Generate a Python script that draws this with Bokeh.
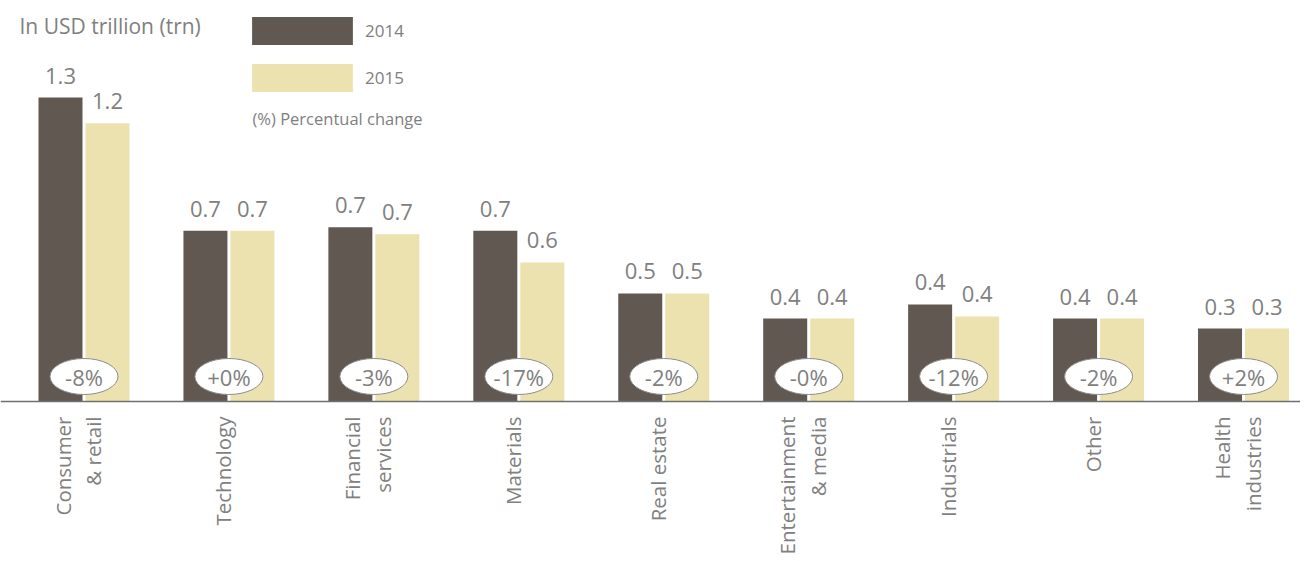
import math
from bokeh.plotting import figure
from bokeh.models import ColumnDataSource, Range1d, Span, Label, Legend, LegendItem
from bokeh.core.properties import value
from bokeh.transform import dodge
from bokeh.embed import file_html
from bokeh.resources import INLINE

# ---------------- data ----------------
categories = ["Consumer\n& retail", "Technology", "Financial\nservices", "Materials",
              "Real estate", "Entertainment\n& media", "Industrials", "Other",
              "Health\nindustries"]
values_2014 = [1.30, 0.73, 0.745, 0.73, 0.462, 0.355, 0.415, 0.355, 0.312]
values_2015 = [1.19, 0.73, 0.715, 0.595, 0.462, 0.355, 0.364, 0.355, 0.312]
pct_change = ["-8%", "+0%", "-3%", "-17%", "-2%", "-0%", "-12%", "-2%", "+2%"]
series_names = ["2014", "2015"]

# ---------------- style / layout ----------------
C14 = "#615851"
C15 = "#ECE2B0"
GREY = "#808080"
FONT = "Open Sans"

W, H = 1300, 553
px_per_group = 144.94
px_per_unit = 233.8
x0_px = 83.5      # frame x of first group centre
base_px = 401     # frame y of the zero line
bar_off = 23.5 / px_per_group
bar_w = 44 / px_per_group
pill_y = 25 / px_per_unit

src = ColumnDataSource(dict(
    x=list(range(len(categories))),
    cat=categories,
    v14=values_2014,
    v15=values_2015,
    l14=[f"{v:.1f}" for v in values_2014],
    l15=[f"{v:.1f}" for v in values_2015],
    pct=pct_change,
))

p = figure(width=W, height=H,
           x_range=Range1d(-x0_px / px_per_group, (W - x0_px) / px_per_group),
           y_range=Range1d(-(H - base_px) / px_per_unit, base_px / px_per_unit),
           output_backend="svg", toolbar_location=None,
           x_axis_location=None, y_axis_location=None,
           min_border=0, outline_line_color=None)
p.grid.visible = False

r14 = p.vbar(x=dodge("x", -bar_off), top="v14", width=bar_w, source=src,
             fill_color=C14, line_color=None)
r15 = p.vbar(x=dodge("x", bar_off), top="v15", width=bar_w, source=src,
             fill_color=C15, line_color=None)

txt = dict(text_font=value(FONT), text_color=GREY)

p.text(x=dodge("x", -bar_off), y="v14", text="l14", source=src,
       text_align="center", text_baseline="alphabetic", y_offset=-22,
       text_font_size="22px", **txt)
p.text(x=dodge("x", bar_off), y="v15", text="l15", source=src,
       text_align="center", text_baseline="alphabetic", y_offset=-22,
       text_font_size="22px", **txt)

p.ellipse(x="x", y=pill_y, width=68, height=36, width_units="screen",
          height_units="screen", source=src, fill_color="white",
          line_color="#8c8c8c", line_width=1)
p.text(x="x", y=pill_y, text="pct", source=src, text_align="center",
       text_baseline="middle", text_font_size="22px", **txt)

p.text(x="x", y=0, text="cat", source=src, angle=math.pi / 2,
       text_align="right", text_baseline="middle", y_offset=15, x_offset=-6,
       text_line_height=1.1, text_font_size="20.5px", **txt)

p.add_layout(Span(location=0, dimension="width", line_color="#6f6f6f",
                  line_width=1.5))

legend = Legend(items=[LegendItem(label=series_names[0], renderers=[r14]),
                       LegendItem(label=series_names[1], renderers=[r15])],
                location=(239, H - 95), glyph_width=126, glyph_height=35,
                spacing=12, padding=0, margin=0, border_line_color=None,
                background_fill_alpha=0, label_text_font_size="17px",
                label_text_color=GREY, label_text_font=FONT, label_standoff=0)
p.add_layout(legend)

p.add_layout(Label(x=252, y=H - 118, x_units="screen", y_units="screen",
                   text="(%) Percentual change", text_baseline="middle",
                   text_font=FONT, text_font_size="16.5px", text_color=GREY))
p.add_layout(Label(x=19, y=H - 25, x_units="screen", y_units="screen",
                   text="In USD trillion (trn)", text_baseline="middle",
                   text_font=FONT, text_font_size="21px", text_color=GREY))

open("out.html", "w").write(file_html(p, INLINE))
